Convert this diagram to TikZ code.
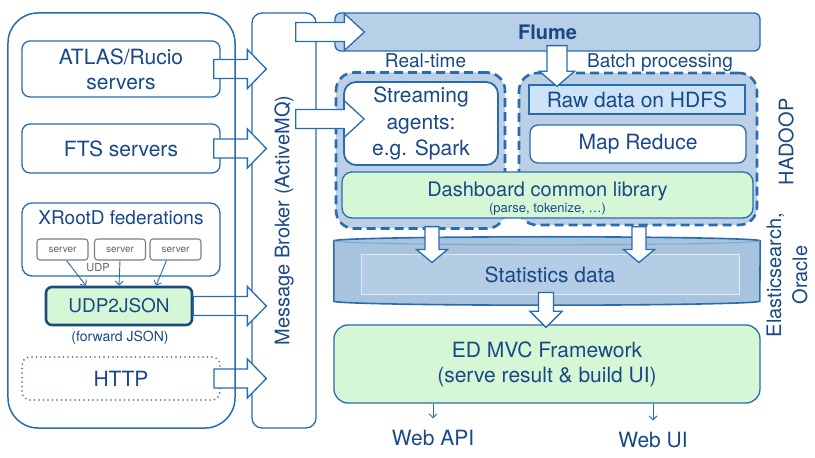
\documentclass[tikz,border=0pt]{standalone}
\usepackage{fontspec}
\setmainfont{TeX Gyre Heros}
\usetikzlibrary{calc,arrows.meta}
\definecolor{txtblue}{RGB}{25,72,135}
\definecolor{lineblue}{RGB}{40,108,175}
\definecolor{flumefill}{RGB}{183,207,231}
\definecolor{dashfill}{RGB}{187,208,231}
\definecolor{rawfill}{RGB}{205,227,249}
\definecolor{dbfill}{RGB}{168,195,221}
\definecolor{dbinner}{RGB}{180,204,228}
\definecolor{libgreen}{RGB}{214,247,213}
\definecolor{srvgray}{RGB}{125,125,125}
\newcommand{\fsz}[2]{\fontsize{#1bp}{#2bp}\selectfont}
% block arrows: shaft half width, head half width, head length, start, tip
\newcommand{\harrow}[5]{%
  \path[fatarrow] let \p1=#4, \p2=#5 in
    (\x1,{\y1-#1}) -- ({\x2-#3},{\y1-#1}) -- ({\x2-#3},{\y1-#2}) -- (\x2,\y1)
    -- ({\x2-#3},{\y1+#2}) -- ({\x2-#3},{\y1+#1}) -- (\x1,{\y1+#1}) -- cycle;}
\newcommand{\varrow}[5]{%
  \path[fatarrow] let \p1=#4, \p2=#5 in
    ({\x1-#1},\y1) -- ({\x1-#1},{\y2+#3}) -- ({\x1-#2},{\y2+#3}) -- (\x1,\y2)
    -- ({\x1+#2},{\y2+#3}) -- ({\x1+#1},{\y2+#3}) -- ({\x1+#1},\y1) -- cycle;}

\begin{document}
\begin{tikzpicture}[x=1bp,y=-1bp]
\tikzset{box/.style={draw=lineblue, line width=1.3bp, rounded corners=8bp, fill=white, text=txtblue, font=\fsz{21}{25}, align=center, inner sep=0pt},
  txt/.style={text=txtblue, font=\fsz{21}{25}, align=center, inner sep=1bp},
  srv/.style={draw=srvgray, line width=1.1bp, rounded corners=3bp, fill=white, text=srvgray!80!black, font=\fsz{10}{12}, minimum width=51bp, minimum height=21bp, inner sep=0pt},
  dashbox/.style={draw=lineblue, fill=dashfill, line width=2.6bp, dash pattern=on 9bp off 5bp, rounded corners=18bp, inner sep=0pt},
  fatarrow/.style={draw=lineblue, line width=1.3bp, fill=white, line join=miter},
  thinarrow/.style={draw=lineblue, line width=0.9bp, -{Straight Barb[length=4bp,width=8bp]}}}
\useasboundingbox (0,0) rectangle (815,458);

\node[box, minimum width=198bp, minimum height=56bp] (atlas) at (121,69) {ATLAS/Rucio\\servers};
\node[box, minimum width=198bp, minimum height=49bp] (fts) at (121,148.5) {FTS servers};
\node[box, rounded corners=10bp, minimum width=198bp, minimum height=73bp] (xrootd) at (121,239.5) {};
\node[txt, font=\fsz{19}{23}] (xrtitle) at (121,218) {XRootD federations};
\node[srv] (srv1) at (62.5,249.5) {server};
\node[srv] (srv2) at (120,249.5) {server};
\node[srv] (srv3) at (175.5,249.5) {server};
\node[txt, text=srvgray!80!black, font=\fsz{11}{13}] (udp) at (98,268) {UDP};
\node[box, fill=libgreen, draw=lineblue!70!black, line width=2.6bp, rounded corners=6bp, minimum width=146bp, minimum height=38bp, font=\fsz{19}{23}] (u2j) at (119,306) {UDP2JSON};
\node[txt, font=\fsz{14}{17}] (fwd) at (120,338) {(forward JSON)};
\node[box, line width=1.8bp, dash pattern=on 0pt off 4.5bp, line cap=round, minimum width=198bp, minimum height=43bp] (http) at (121,378.5) {HTTP};
\draw[thinarrow] ($(srv1.south)+(4,0)$) -- ($(u2j.north)+(-33,0)$);
\draw[thinarrow] (srv2.south) -- (u2j.north);
\draw[thinarrow] ($(srv3.south)+(-9,0)$) -- ($(u2j.north)+(37,0)$);

\node[box, rounded corners=10bp, minimum width=64bp, minimum height=415bp] (broker) at (284,220.5) {};
\node[txt, rotate=90, font=\fsz{20}{24}] (brokerlbl) at (broker.center) {Message Broker (ActiveMQ)};

\node[dashbox, minimum width=169bp, minimum height=156bp] (rt) at (420.5,150.5) {};
\node[dashbox, minimum width=238bp, minimum height=152bp] (bt) at (638,149) {};
\node[txt, font=\fsz{19}{23}, anchor=base] (rtlbl) at (425.5,68) {Real-time};
\node[txt, font=\fsz{19}{23}, anchor=base] (btlbl) at (660,68) {Batch processing};
\node[box, fill=flumefill, rounded corners=6bp, minimum width=425bp, minimum height=38bp, font=\bfseries\fsz{20}{24}] (flume) at (547.5,32) {Flume};
\node[box, line width=1.8bp, rounded corners=12bp, minimum width=154bp, minimum height=83bp, font=\fsz{21}{26.5}] (stream) at (421,123.5) {Streaming\\agents:\\e.g. Spark};
\node[box, fill=rawfill, rounded corners=0pt, minimum width=216bp, minimum height=29bp] (raw) at (637,99.5) {Raw data on HDFS};
\node[box, minimum width=216bp, minimum height=38bp] (mapred) at (638,144) {Map Reduce};
\node[box, fill=libgreen, rounded corners=10bp, minimum width=411bp, minimum height=46bp] (lib) at (547.5,195) {};
\node[txt, font=\fsz{20}{24}, anchor=base] (libtitle) at (547.5,197) {Dashboard common library};
\node[txt, font=\fsz{13}{15}, anchor=base] (libnote) at (547.5,213) {(parse, tokenize, \dots)};

\node[inner sep=0pt, minimum width=426bp, minimum height=68bp] (statsdb) at (547,271) {};
\draw[draw=lineblue, line width=1.6bp, fill=dbfill] ($(statsdb.north west)+(0,4)$) -- ($(statsdb.south west)+(0,-4)$)
  arc[start angle=180, end angle=360, x radius=213bp, y radius=4bp] -- ($(statsdb.north east)+(0,4)$)
  arc[start angle=0, end angle=180, x radius=213bp, y radius=4bp] -- cycle;
\draw[lineblue!60, line width=1bp] ($(statsdb.north west)+(0,4)$) arc[start angle=180, end angle=360, x radius=213bp, y radius=4bp];
\node[box, fill=dbinner, draw=white!60!dbinner, line width=1bp, rounded corners=0pt, minimum width=378bp, minimum height=40bp] (stats) at (550,275) {Statistics data};
\node[box, fill=libgreen, rounded corners=14bp, minimum width=426bp, minimum height=78bp] (mvc) at (547,364) {ED MVC Framework\\(serve result \& build UI)};

\harrow{9.5bp}{19.5bp}{19bp}{($(atlas.east)+(-7,0)$)}{($(broker.west)+(15,0)$)}
\harrow{9.5bp}{19.5bp}{19bp}{($(fts.east)+(-7,0)$)}{($(broker.west)+(15,0)$)}
\harrow{9.5bp}{19.5bp}{19bp}{(u2j.east)}{($(broker.west)+(15,0)$)}
\harrow{9.5bp}{19.5bp}{19bp}{($(http.east)+(-7,0)$)}{($(broker.west)+(15,0)$)}
\harrow{9.5bp}{18.5bp}{20bp}{($(broker.east |- flume.west)+(-21,0)$)}{($(flume.west)+(30,0)$)}
\harrow{9.5bp}{18.5bp}{20bp}{($(broker.east |- stream.west)+(-21,-4.5)$)}{($(stream.west)+(21,0)$)}
\varrow{10bp}{17.5bp}{15bp}{($(flume.south)+(9.5,-6)$)}{($(raw.north)+(0,2)$)}
\varrow{7bp}{15.5bp}{13bp}{($(lib.south)+(-115.5,8)$)}{($(stats.north)+(0,8)$)}
\varrow{7bp}{15.5bp}{13bp}{($(lib.south)+(91.5,8)$)}{($(stats.north)+(0,8)$)}
\varrow{7.5bp}{16bp}{16bp}{($(stats.south)+(-4,-3)$)}{($(mvc.north)+(0,3)$)}

\node[draw=lineblue, line width=1.5bp, rounded corners=30bp, minimum width=227bp, minimum height=415bp, inner sep=0pt] (sources) at (121.5,220.5) {};

\node[txt, anchor=base] (webapi) at (433,445) {Web API};
\node[txt, anchor=base] (webui) at (653,447) {Web UI};
\draw[thinarrow, shorten >=10bp] (mvc.south -| webapi) -- (webapi.north);
\draw[thinarrow, shorten >=10bp] (mvc.south -| webui) -- (webui.north);

\node[txt, rotate=90, font=\fsz{20}{24}] (hadoop) at (786,142) {HADOOP};
\node[txt, rotate=90, font=\fsz{20}{26}] (esora) at (787,275) {Elasticsearch,\\Oracle};
\end{tikzpicture}
\end{document}
